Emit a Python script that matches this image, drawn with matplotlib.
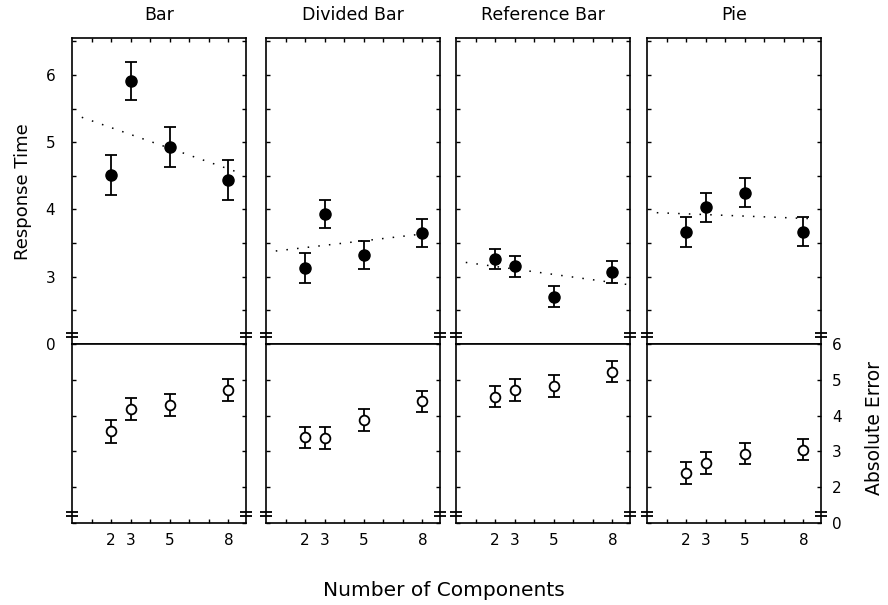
import numpy as np
import matplotlib
matplotlib.use("Agg")
import matplotlib.pyplot as plt
from matplotlib.ticker import FixedLocator, NullLocator
from matplotlib import transforms

plt.rcParams['font.family'] = ['DejaVu Sans']

components = [2, 3, 5, 8]
panel_titles = ["Bar", "Divided Bar", "Reference Bar", "Pie"]

# response time (top)
rt_bar = [4.51, 5.91, 4.93, 4.44]
rt_divided = [3.13, 3.93, 3.32, 3.65]
rt_reference = [3.26, 3.15, 2.70, 3.07]
rt_pie = [3.66, 4.03, 4.25, 3.67]
rt_bar_err = [0.30, 0.29, 0.30, 0.30]
rt_divided_err = [0.22, 0.21, 0.21, 0.21]
rt_reference_err = [0.15, 0.15, 0.16, 0.16]
rt_pie_err = [0.22, 0.22, 0.22, 0.22]

# dotted fit lines (end points)
fit_x = [[0.5, 8.5], [0.5, 8.5], [0.5, 8.8], [0.5, 8.5]]
fit_rt = [[5.37, 4.55], [3.38, 3.65], [3.21, 2.88], [3.95, 3.86]]

# absolute error (bottom)
ae_bar = [3.56, 4.18, 4.29, 4.72]
ae_divided = [3.39, 3.37, 3.87, 4.40]
ae_reference = [4.53, 4.72, 4.82, 5.23]
ae_pie = [2.39, 2.68, 2.94, 3.05]
ae_bar_err = [0.32, 0.30, 0.31, 0.31]
ae_divided_err = [0.30, 0.30, 0.30, 0.30]
ae_reference_err = [0.30, 0.30, 0.31, 0.30]
ae_pie_err = [0.30, 0.30, 0.30, 0.30]

rt_all = [rt_bar, rt_divided, rt_reference, rt_pie]
rt_err_all = [rt_bar_err, rt_divided_err, rt_reference_err, rt_pie_err]
ae_all = [ae_bar, ae_divided, ae_reference, ae_pie]
ae_err_all = [ae_bar_err, ae_divided_err, ae_reference_err, ae_pie_err]

W, H = 888, 605
RT_BREAK, RT_K = 2.13, 0.063
AE_BREAK, AE_K = 1.25, 0.201


def broken(b, k):
    def fwd(y):
        y = np.asarray(y, float)
        return np.where(y >= b, y, b - (b - y) * k)

    def inv(t):
        t = np.asarray(t, float)
        return np.where(t >= b, t, b - (b - t) / k)
    return fwd, inv


def break_marks(ax, yb):
    base = transforms.blended_transform_factory(ax.transAxes, ax.transData)
    for dy in (-2.0, 2.0):
        tr = base + transforms.ScaledTranslation(0, dy / 100, ax.figure.dpi_scale_trans)
        ax.plot([0, 1], [yb, yb], ls='none', marker='_', ms=9, mew=1.3,
                color='k', transform=tr, clip_on=False, zorder=5)


fig = plt.figure(figsize=(W / 100, H / 100), dpi=100)

lefts = [72, 266, 456, 647]
width = 174
top_y0, top_y1 = 38, 344
bot_y0, bot_y1 = 344, 523

for i in range(4):
    l = lefts[i] / W
    w = width / W
    ax_t = fig.add_axes([l, 1 - top_y1 / H, w, (top_y1 - top_y0) / H])
    ax_b = fig.add_axes([l, 1 - bot_y1 / H, w, (bot_y1 - bot_y0) / H])

    # top: response time
    ax_t.set_yscale('function', functions=broken(RT_BREAK, RT_K))
    ax_t.set_ylim(0, 6.55)
    ax_t.set_xlim(0, 8.9)
    ax_t.errorbar(components, rt_all[i], yerr=rt_err_all[i], fmt='o', color='k',
                  ms=8, capsize=4.5, elinewidth=1.3, capthick=1.3)
    ax_t.plot(fit_x[i], fit_rt[i], color='k', lw=1.1, ls=(0, (1, 6)))
    ax_t.yaxis.set_major_locator(FixedLocator([0, 3, 4, 5, 6]))
    ax_t.yaxis.set_minor_locator(FixedLocator([2.5, 3.5, 4.5, 5.5, 6.5]))
    ax_t.xaxis.set_major_locator(FixedLocator([1, 2, 3, 4, 5, 6, 7, 8]))
    ax_t.xaxis.set_minor_locator(NullLocator())
    ax_t.tick_params(which='both', direction='in', length=3, width=1,
                     left=True, right=True, top=True, bottom=False,
                     labelbottom=False, labelleft=(i == 0), labelright=False,
                     labelsize=11, pad=12)
    break_marks(ax_t, RT_BREAK)
    ax_t.set_title(panel_titles[i], fontsize=12.5, pad=13)

    # bottom: absolute error
    ax_b.set_yscale('function', functions=broken(AE_BREAK, AE_K))
    ax_b.set_ylim(0, 6)
    ax_b.set_xlim(0, 8.9)
    ax_b.errorbar(components, ae_all[i], yerr=ae_err_all[i], fmt='o', color='k',
                  mfc='white', mew=1.3, ms=7, capsize=4.5, elinewidth=1.3,
                  capthick=1.3)
    ax_b.yaxis.set_major_locator(FixedLocator([0, 2, 3, 4, 5, 6]))
    ax_b.yaxis.set_minor_locator(NullLocator())
    ax_b.xaxis.set_major_locator(FixedLocator([1, 2, 3, 4, 5, 6, 7, 8]))
    ax_b.set_xticklabels(['', '2', '3', '', '5', '', '', '8'])
    ax_b.tick_params(which='both', direction='in', length=3, width=1,
                     left=True, right=True, top=False, bottom=True,
                     labelleft=False, labelright=(i == 3),
                     labelsize=11)
    ax_b.tick_params(axis='x', pad=7)
    ax_b.tick_params(axis='y', pad=8)
    break_marks(ax_b, AE_BREAK)

    for ax in (ax_t, ax_b):
        for s in ax.spines.values():
            s.set_linewidth(1.2)

fig.text(23 / W, 1 - 192 / H, "Response Time", rotation=90, ha='center',
         va='center', fontsize=13)
fig.text(874 / W, 1 - 428 / H, "Absolute Error", rotation=90, ha='center',
         va='center', fontsize=13.5)
fig.text(444 / W, 1 - 591 / H, "Number of Components", ha='center',
         va='center', fontsize=14.5)

fig.savefig("out.png", dpi=100)
